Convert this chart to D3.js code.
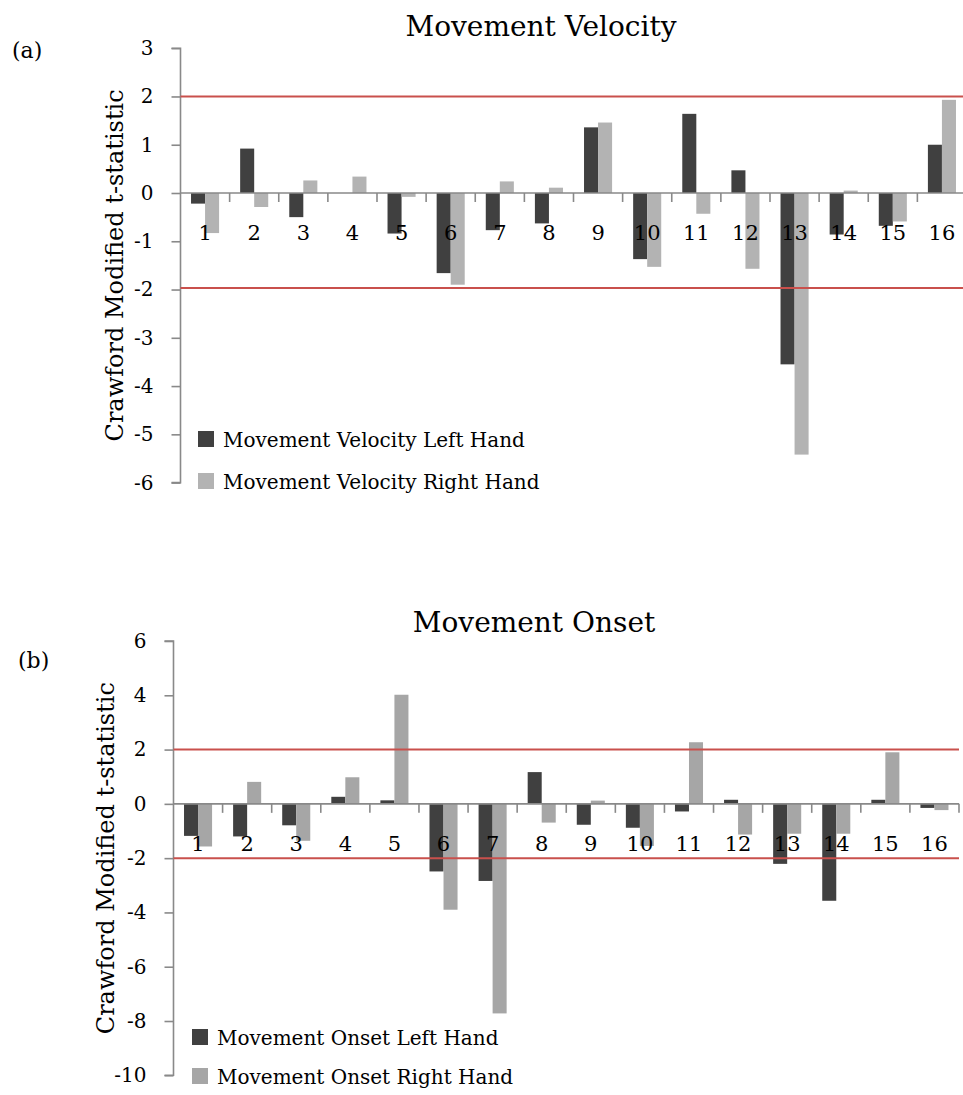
<!DOCTYPE html>
<html>
<head>
<meta charset="utf-8">
<script src="https://cdn.jsdelivr.net/npm/d3@7"></script>
<style>
  html, body { margin: 0; padding: 0; background: #fff; }
  svg { display: block; font-family: "DejaVu Serif", "Liberation Serif", serif; }
</style>
</head>
<body>
<svg id="chart" width="963" height="1095"></svg>
<script>
// Participants 1–16
const participants = ["1","2","3","4","5","6","7","8","9","10","11","12","13","14","15","16"];

// (a) Movement velocity: Crawford modified t-statistics
const velocityLeft  = [-0.22, 0.92, -0.50, 0.00, -0.84, -1.66, -0.77, -0.63, 1.36, -1.37, 1.64, 0.47, -3.55, -0.86, -0.68, 1.00];
const velocityRight = [-0.83, -0.29, 0.26, 0.34, -0.08, -1.90, 0.24, 0.11, 1.46, -1.53, -0.43, -1.57, -5.42, 0.05, -0.59, 1.93];
const velocityTicks = [3, 2, 1, 0, -1, -2, -3, -4, -5, -6];
const velocityCutoffs = [2.0, -1.97];

// (b) Movement onset: Crawford modified t-statistics
const onsetLeft  = [-1.18, -1.20, -0.79, 0.26, 0.13, -2.49, -2.84, 1.17, -0.77, -0.88, -0.28, 0.15, -2.21, -3.57, 0.15, -0.15];
const onsetRight = [-1.57, 0.81, -1.36, 0.98, 4.02, -3.90, -7.72, -0.69, 0.12, -1.55, 2.27, -1.13, -1.10, -1.10, 1.90, -0.23];
const onsetTicks = [6, 4, 2, 0, -2, -4, -6, -8, -10];
const onsetCutoffs = [2.0, -2.0];

const yTitle = "Crawford Modified t-statistic";

const svg = d3.select("#chart");
const axisColor = "#898989";
const darkFill = "#404040";

function drawPanel(opt) {
  const g = svg.append("g");
  const rows = opt.categories.map((c, i) => ({ cat: c, L: opt.left[i], R: opt.right[i] }));

  const x0 = d3.scaleBand().domain(opt.categories).range(opt.xRange).paddingInner(0).paddingOuter(0);
  const x1 = d3.scaleBand().domain(["L", "R"]).range([0, x0.bandwidth()]).paddingInner(0).paddingOuter(0.75);
  const y = d3.scaleLinear().domain(opt.yDomain).range(opt.yRange);
  const fills = { L: darkFill, R: opt.lightFill };

  // bars
  g.append("g").selectAll("g")
    .data(rows).join("g")
    .attr("transform", d => `translate(${x0(d.cat)},0)`)
    .selectAll("rect")
    .data(d => ["L", "R"].map(k => ({ k, v: d[k] })))
    .join("rect")
    .attr("x", d => x1(d.k))
    .attr("width", x1.bandwidth())
    .attr("y", d => y(Math.max(0, d.v)))
    .attr("height", d => Math.abs(y(d.v) - y(0)))
    .attr("fill", d => fills[d.k]);

  // y axis
  const yAxis = d3.axisLeft(y).tickValues(opt.ticks).tickSize(9).tickPadding(18)
    .tickFormat(d => String(d));
  const ya = g.append("g").attr("transform", `translate(${opt.xRange[0]},0)`).call(yAxis);
  ya.select(".domain").attr("stroke", axisColor).attr("stroke-width", 1.6)
    .attr("d", `M-9,${y(opt.yDomain[1])}H0V${y(opt.yDomain[0])}H-9`);
  ya.selectAll(".tick line").attr("stroke", axisColor).attr("stroke-width", 1.6);
  ya.selectAll(".tick text").attr("fill", "#000").style("font-size", "20px")
    .style("font-family", "DejaVu Serif, serif");

  // category axis along zero
  const y0 = y(0);
  const xa = g.append("g");
  xa.append("line")
    .attr("x1", opt.xRange[0]).attr("x2", opt.xRange[1])
    .attr("y1", y0).attr("y2", y0)
    .attr("stroke", axisColor).attr("stroke-width", 1.6);
  xa.selectAll("line.cat-tick")
    .data(opt.categories).join("line")
    .attr("class", "cat-tick")
    .attr("x1", d => x0(d) + x0.bandwidth()).attr("x2", d => x0(d) + x0.bandwidth())
    .attr("y1", y0).attr("y2", y0 + 9)
    .attr("stroke", axisColor).attr("stroke-width", 1.6);
  xa.selectAll("text")
    .data(opt.categories).join("text")
    .attr("x", d => x0(d) + x0.bandwidth() / 2)
    .attr("y", y0 + 47)
    .attr("text-anchor", "middle")
    .style("font-size", "21px")
    .text(d => d);

  // critical value lines
  g.append("g").selectAll("line")
    .data(opt.cutoffs).join("line")
    .attr("x1", opt.xRange[0]).attr("x2", opt.xRange[1])
    .attr("y1", d => y(d)).attr("y2", d => y(d))
    .attr("stroke", "#c9504c").attr("stroke-width", 2);

  // title
  g.append("text")
    .attr("x", opt.titlePos[0]).attr("y", opt.titlePos[1])
    .attr("text-anchor", "middle")
    .style("font-size", "28px")
    .text(opt.title);

  // panel tag
  g.append("text")
    .attr("x", opt.tagPos[0]).attr("y", opt.tagPos[1])
    .style("font-size", "22px")
    .text(opt.tag);

  // y axis title
  const yMid = (opt.yRange[0] + opt.yRange[1]) / 2;
  g.append("text")
    .attr("transform", `translate(${opt.yTitleX},${yMid}) rotate(-90)`)
    .attr("text-anchor", "middle")
    .style("font-size", "24px")
    .text(yTitle);

  // legend
  const lg = g.append("g").attr("transform", `translate(${opt.legendPos[0]},${opt.legendPos[1]})`);
  const items = [
    { name: opt.legendNames[0], fill: darkFill },
    { name: opt.legendNames[1], fill: opt.lightFill }
  ];
  const it = lg.selectAll("g").data(items).join("g")
    .attr("transform", (d, i) => `translate(0,${i * opt.legendGap})`);
  it.append("rect").attr("x", 0).attr("y", -16).attr("width", 16).attr("height", 16)
    .attr("fill", d => d.fill);
  it.append("text").attr("x", 25).attr("y", 0)
    .style("font-size", "20px")
    .text(d => d.name);
}

drawPanel({
  categories: participants,
  left: velocityLeft,
  right: velocityRight,
  ticks: velocityTicks,
  cutoffs: velocityCutoffs,
  yDomain: [-6, 3],
  yRange: [482.6, 48.2],
  xRange: [180.5, 966.5],
  lightFill: "#b3b3b3",
  title: "Movement Velocity",
  titlePos: [541, 36],
  tag: "(a)",
  tagPos: [12, 58],
  yTitleX: 123,
  legendPos: [198, 447],
  legendGap: 42,
  legendNames: ["Movement Velocity Left Hand", "Movement Velocity Right Hand"]
});

drawPanel({
  categories: participants,
  left: onsetLeft,
  right: onsetRight,
  ticks: onsetTicks,
  cutoffs: onsetCutoffs,
  yDomain: [-10, 6],
  yRange: [1075.3, 641],
  xRange: [173.5, 959],
  lightFill: "#a6a6a6",
  title: "Movement Onset",
  titlePos: [534, 632],
  tag: "(b)",
  tagPos: [18, 668],
  yTitleX: 114,
  legendPos: [192, 1045],
  legendGap: 39,
  legendNames: ["Movement Onset Left Hand", "Movement Onset Right Hand"]
});
</script>
</body>
</html>
